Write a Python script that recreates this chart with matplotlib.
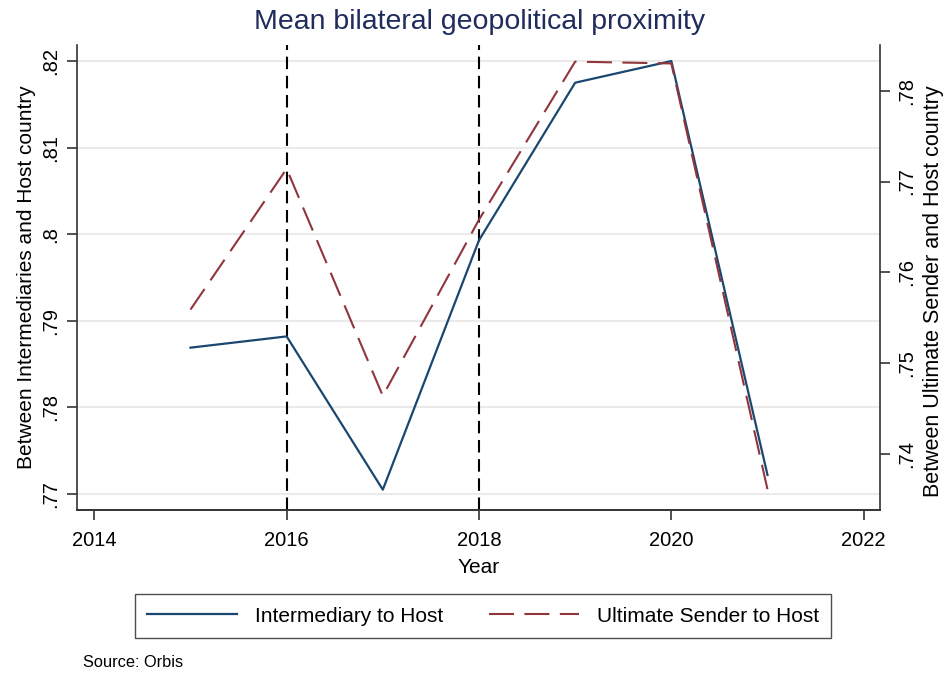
import matplotlib
matplotlib.use("Agg")
import matplotlib.pyplot as plt
from matplotlib.lines import Line2D

plt.rcParams['font.family'] = ['Liberation Sans', 'DejaVu Sans']

years = [2015, 2016, 2017, 2018, 2019, 2020, 2021]
intermediary = [0.7869, 0.7882, 0.7705, 0.7993, 0.8175, 0.8200, 0.7722]
ultimate = [0.7559, 0.7714, 0.7464, 0.7658, 0.7832, 0.7830, 0.7361]
event_years = [2016, 2018]

x_ticks = [2014, 2016, 2018, 2020, 2022]
left_ticks = [0.77, 0.78, 0.79, 0.80, 0.81, 0.82]
left_labels = ['.77', '.78', '.79', '.8', '.81', '.82']
right_ticks = [0.74, 0.75, 0.76, 0.77, 0.78]
right_labels = ['.74', '.75', '.76', '.77', '.78']

blue = '#1a476f'
red = '#90353b'
red_dash = (0, (12, 5))

fig = plt.figure(figsize=(9.48, 6.75), dpi=100)
ax = fig.add_axes([0.0812, 0.2444, 0.8471, 0.6889])
ax2 = ax.twinx()

ax.set_xlim(2013.82, 2022.17)
ax.set_ylim(0.76815, 0.82185)
ax2.set_ylim(0.73383, 0.78503)

ax.set_yticks(left_ticks)
ax.set_yticklabels(left_labels, rotation=90, va='center')
ax2.set_yticks(right_ticks)
ax2.set_yticklabels(right_labels, rotation=90, va='center')
ax.set_xticks(x_ticks)

ax.grid(axis='y', color='#eaeaea', linewidth=1.5)
ax.set_axisbelow(True)

for ev in event_years:
    ax.axvline(ev, color='black', linewidth=1.5, linestyle=(0, (6, 3.2)), zorder=2)

l1, = ax.plot(years, intermediary, color=blue, linewidth=1.6, zorder=3)
l2, = ax2.plot(years, ultimate, color=red, linewidth=1.5, linestyle=red_dash, zorder=3)

for a in (ax, ax2):
    a.spines['top'].set_visible(False)
    for s in a.spines.values():
        s.set_linewidth(1.2)
        s.set_color('#333333')
    a.tick_params(axis='both', direction='out', length=7, width=1.2,
                  labelsize=14.5, color='#333333')
ax2.spines['left'].set_visible(False)
ax.spines['right'].set_visible(False)
ax.tick_params(axis='y', pad=5)
ax2.tick_params(axis='y', pad=5)
ax.tick_params(axis='x', pad=8)

ax.set_xlabel('Year', fontsize=15, labelpad=6)
ax.set_ylabel('Between Intermediaries and Host country', fontsize=15, labelpad=4)
ax2.set_ylabel('Between Ultimate Sender and Host country', fontsize=15.5, labelpad=4)
ax2.yaxis.set_label_coords(1.053, 0.47)

fig.text(0.506, 0.968, 'Mean bilateral geopolitical proximity', ha='center', va='center',
         fontsize=20.5, color='#1f2c5c')

handles = [Line2D([], [], color=blue, linewidth=1.6),
           Line2D([], [], color=red, linewidth=1.5, linestyle=red_dash)]
leg = fig.legend(handles, ['Intermediary to Host', 'Ultimate Sender to Host'],
                 loc='center', bbox_to_anchor=(0.5095, 0.0874), ncol=2,
                 fontsize=15, frameon=True, fancybox=False, handlelength=4.3,
                 columnspacing=2.2, borderpad=0.6, handletextpad=0.87)
leg.get_frame().set_edgecolor('#222222')
leg.get_frame().set_linewidth(1.0)

fig.text(0.088, 0.019, 'Source: Orbis', fontsize=11.8, ha='left', va='center')

fig.savefig('out.png', dpi=100, facecolor='white')
